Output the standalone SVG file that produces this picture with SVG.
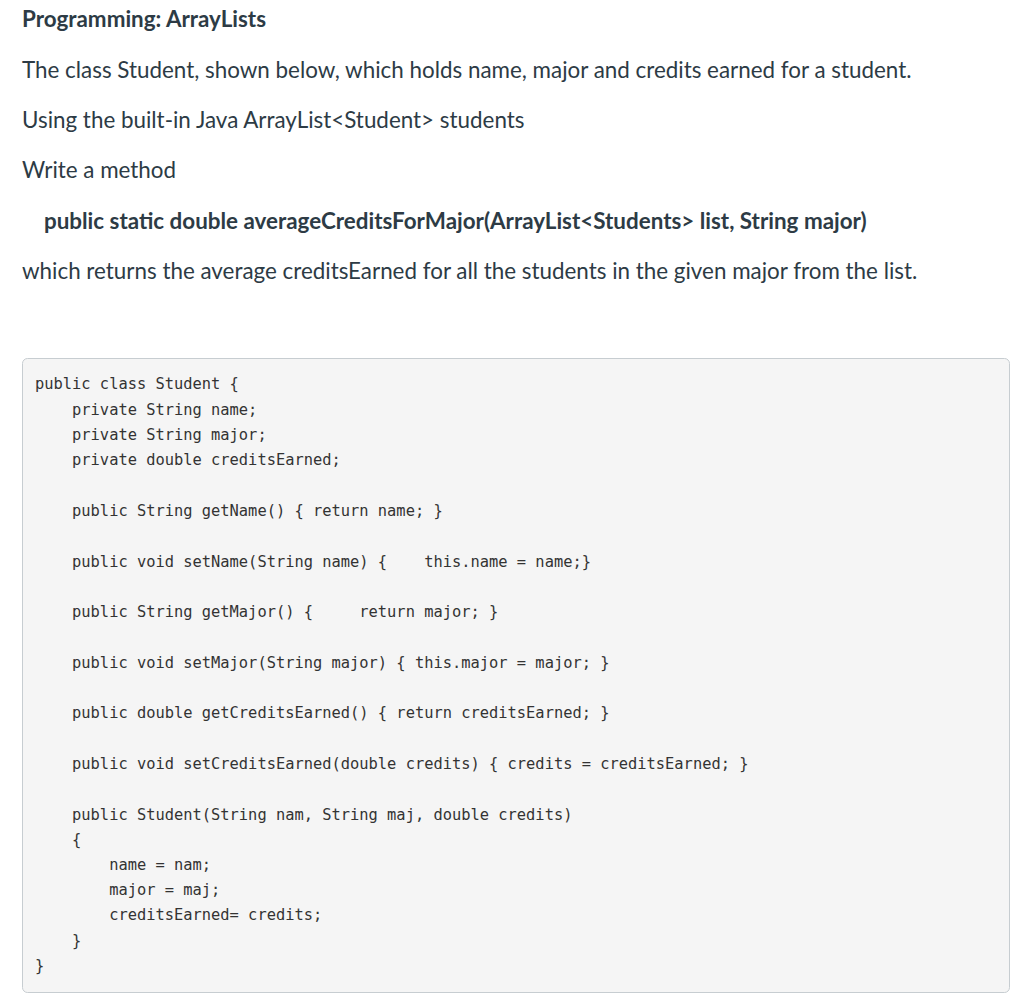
<svg xmlns="http://www.w3.org/2000/svg" width="1024" height="995" viewBox="0 0 1024 995">
<style>
.t{font-family:Lato,"Liberation Sans",sans-serif;font-size:22.4px;fill:#2d3b45}
.b{font-weight:bold}
.c{font-family:"DejaVu Sans Mono","Liberation Mono",monospace;font-size:15.4px;fill:#333;white-space:pre}
</style>
<rect width="1024" height="995" fill="#fff"/>
<text class="t b" x="22" y="27">Programming: ArrayLists</text>
<text class="t" x="22" y="78">The class Student, shown below, which holds name, major and credits earned for a student.</text>
<text class="t" x="22" y="128">Using the built-in Java ArrayList&lt;Student&gt; students</text>
<text class="t" x="22" y="178">Write a method</text>
<text class="t b" x="44" y="229">public static double averageCreditsForMajor(ArrayList&lt;Students&gt; list, String major)</text>
<text class="t" x="22" y="279">which returns the average creditsEarned for all the students in the given major from the list.</text>
<rect x="22.5" y="358.5" width="987" height="634" rx="5" fill="#f5f5f5" stroke="#c7cdd1"/>
<g class="c">
<text x="35" y="389" xml:space="preserve">public class Student {</text>
<text x="35" y="415" xml:space="preserve">    private String name;</text>
<text x="35" y="440" xml:space="preserve">    private String major;</text>
<text x="35" y="465" xml:space="preserve">    private double creditsEarned;</text>
<text x="35" y="516" xml:space="preserve">    public String getName() { return name; }</text>
<text x="35" y="567" xml:space="preserve">    public void setName(String name) {    this.name = name;}</text>
<text x="35" y="617" xml:space="preserve">    public String getMajor() {     return major; }</text>
<text x="35" y="668" xml:space="preserve">    public void setMajor(String major) { this.major = major; }</text>
<text x="35" y="718" xml:space="preserve">    public double getCreditsEarned() { return creditsEarned; }</text>
<text x="35" y="769" xml:space="preserve">    public void setCreditsEarned(double credits) { credits = creditsEarned; }</text>
<text x="35" y="820" xml:space="preserve">    public Student(String nam, String maj, double credits)</text>
<text x="35" y="845" xml:space="preserve">    {</text>
<text x="35" y="870" xml:space="preserve">        name = nam;</text>
<text x="35" y="895" xml:space="preserve">        major = maj;</text>
<text x="35" y="920" xml:space="preserve">        creditsEarned= credits;</text>
<text x="35" y="946" xml:space="preserve">    }</text>
<text x="35" y="971" xml:space="preserve">}</text>
</g>
</svg>
